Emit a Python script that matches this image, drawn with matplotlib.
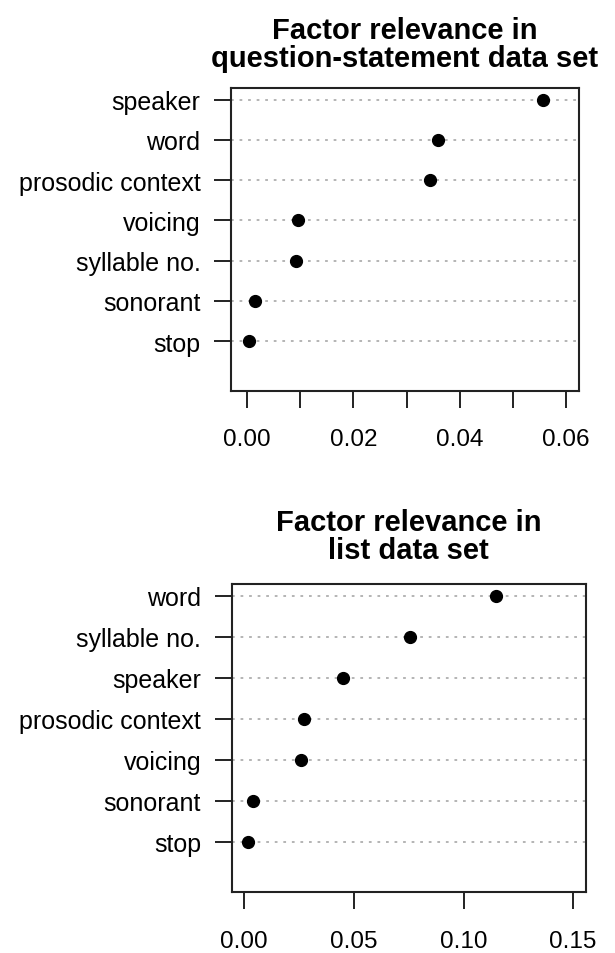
import matplotlib
matplotlib.use("Agg")
import matplotlib.pyplot as plt

plt.rcParams['font.family'] = ['Liberation Sans', 'DejaVu Sans']

# Data (top row of chart first)
qs_factors = ["speaker", "word", "prosodic context", "voicing", "syllable no.", "sonorant", "stop"]
qs_values = [0.0557, 0.0360, 0.0345, 0.0096, 0.0092, 0.0015, 0.0003]
qs_ticks = [0.00, 0.01, 0.02, 0.03, 0.04, 0.05, 0.06]
qs_ticklabels = ["0.00", "", "0.02", "", "0.04", "", "0.06"]

list_factors = ["word", "syllable no.", "speaker", "prosodic context", "voicing", "sonorant", "stop"]
list_values = [0.1147, 0.0755, 0.0448, 0.0272, 0.0257, 0.0038, 0.0017]
list_ticks = [0.00, 0.05, 0.10, 0.15]
list_ticklabels = ["0.00", "0.05", "0.10", "0.15"]

fig = plt.figure(figsize=(6.15, 9.54), dpi=100)

def dotchart(ax, factors, values, ticks, ticklabels, xlim, title, tpad):
    n = len(factors)
    ys = list(range(n, 0, -1))
    for y in ys:
        ax.axhline(y, color='#b4b4b4', linestyle=(0, (1.4, 3.0)), linewidth=1.4, zorder=1)
    ax.plot(values, ys, 'o', color='black', markersize=8.5, zorder=3)
    ax.set_xlim(*xlim)
    ax.set_ylim(-0.24, n + 0.29)
    ax.set_yticks(ys)
    ax.set_yticklabels(factors, fontsize=18)
    ax.set_xticks(ticks)
    ax.set_xticklabels(ticklabels, fontsize=17.5)
    ax.tick_params(axis='y', length=12, width=1.4, pad=10, color='#222222')
    ax.tick_params(axis='x', length=12, width=1.4, pad=15, color='#222222')
    for s in ax.spines.values():
        s.set_linewidth(1.5)
        s.set_color('#222222')
    ax.set_title(title, fontsize=21, fontweight='bold', linespacing=1.0, pad=tpad)

ax1 = fig.add_axes([0.3756, 0.5891, 0.5659, 0.3176])
dotchart(ax1, qs_factors, qs_values, qs_ticks, qs_ticklabels, (-0.00307, 0.06247),
         "Factor relevance in\nquestion-statement data set", 15.5)

ax2 = fig.add_axes([0.3767, 0.0636, 0.5756, 0.3232])
dotchart(ax2, list_factors, list_values, list_ticks, list_ticklabels, (-0.00575, 0.1557),
         "Factor relevance in\nlist data set", 19)

fig.savefig("out.png", dpi=100)
